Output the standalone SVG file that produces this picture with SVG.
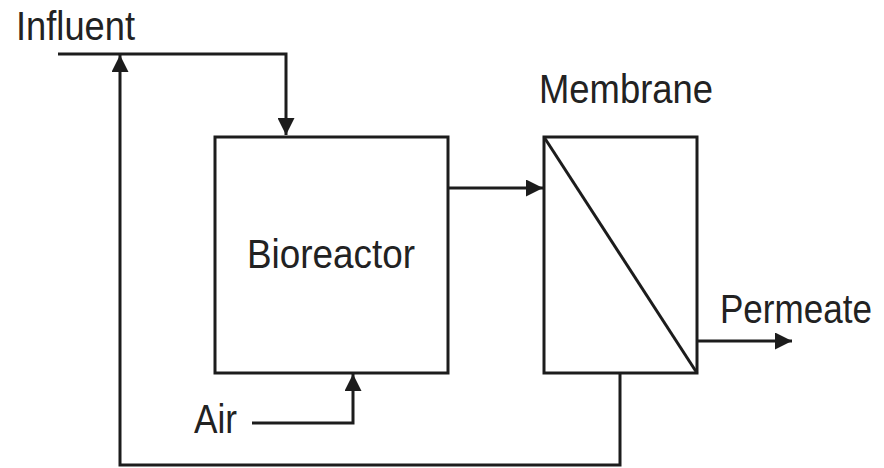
<svg xmlns="http://www.w3.org/2000/svg" width="884" height="468" viewBox="0 0 884 468">
<defs>
<style>
.ln{fill:none;stroke:#1c1c1c;stroke-width:3;stroke-linejoin:miter}
.bx{fill:#fff;stroke:#1c1c1c;stroke-width:3}
.t{font-family:"Liberation Sans",Arial,sans-serif;font-size:41px;fill:#222}
</style>
<marker id="ah" viewBox="0 0 10 10" refX="10" refY="5" markerWidth="17" markerHeight="17" markerUnits="userSpaceOnUse" orient="auto">
<path d="M0,0 L10,5 L0,10 Z" fill="#1c1c1c"/>
</marker>
</defs>
<rect width="884" height="468" fill="#fff"/>
<g id="bioreactor">
<rect class="bx" x="215" y="137" width="233" height="236"/>
<text class="t" x="247" y="268" textLength="168" lengthAdjust="spacingAndGlyphs">Bioreactor</text>
</g>
<g id="membrane">
<rect class="bx" x="544" y="137" width="153" height="236"/>
<line class="ln" x1="544" y1="137" x2="697" y2="373"/>
<text class="t" x="539" y="103" textLength="174" lengthAdjust="spacingAndGlyphs">Membrane</text>
</g>
<g id="influent">
<text class="t" x="16" y="40" textLength="119" lengthAdjust="spacingAndGlyphs">Influent</text>
</g>
<g id="air">
<text class="t" x="194" y="433" textLength="43" lengthAdjust="spacingAndGlyphs">Air</text>
</g>
<g id="permeate">
<text class="t" transform="translate(720,323) scale(0.855,1)" x="0" y="0">Permeate</text>
</g>
<g id="connectors">
<polyline class="ln" points="58,54 286,54 286,135" marker-end="url(#ah)"/>
<polyline class="ln" points="620,373 620,465 120,465 120,55" marker-end="url(#ah)"/>
<line class="ln" x1="448" y1="188" x2="543" y2="188" marker-end="url(#ah)"/>
<line class="ln" x1="697" y1="341" x2="792" y2="341" marker-end="url(#ah)"/>
<polyline class="ln" points="252,423 353,423 353,374" marker-end="url(#ah)"/>
</g>
</svg>
